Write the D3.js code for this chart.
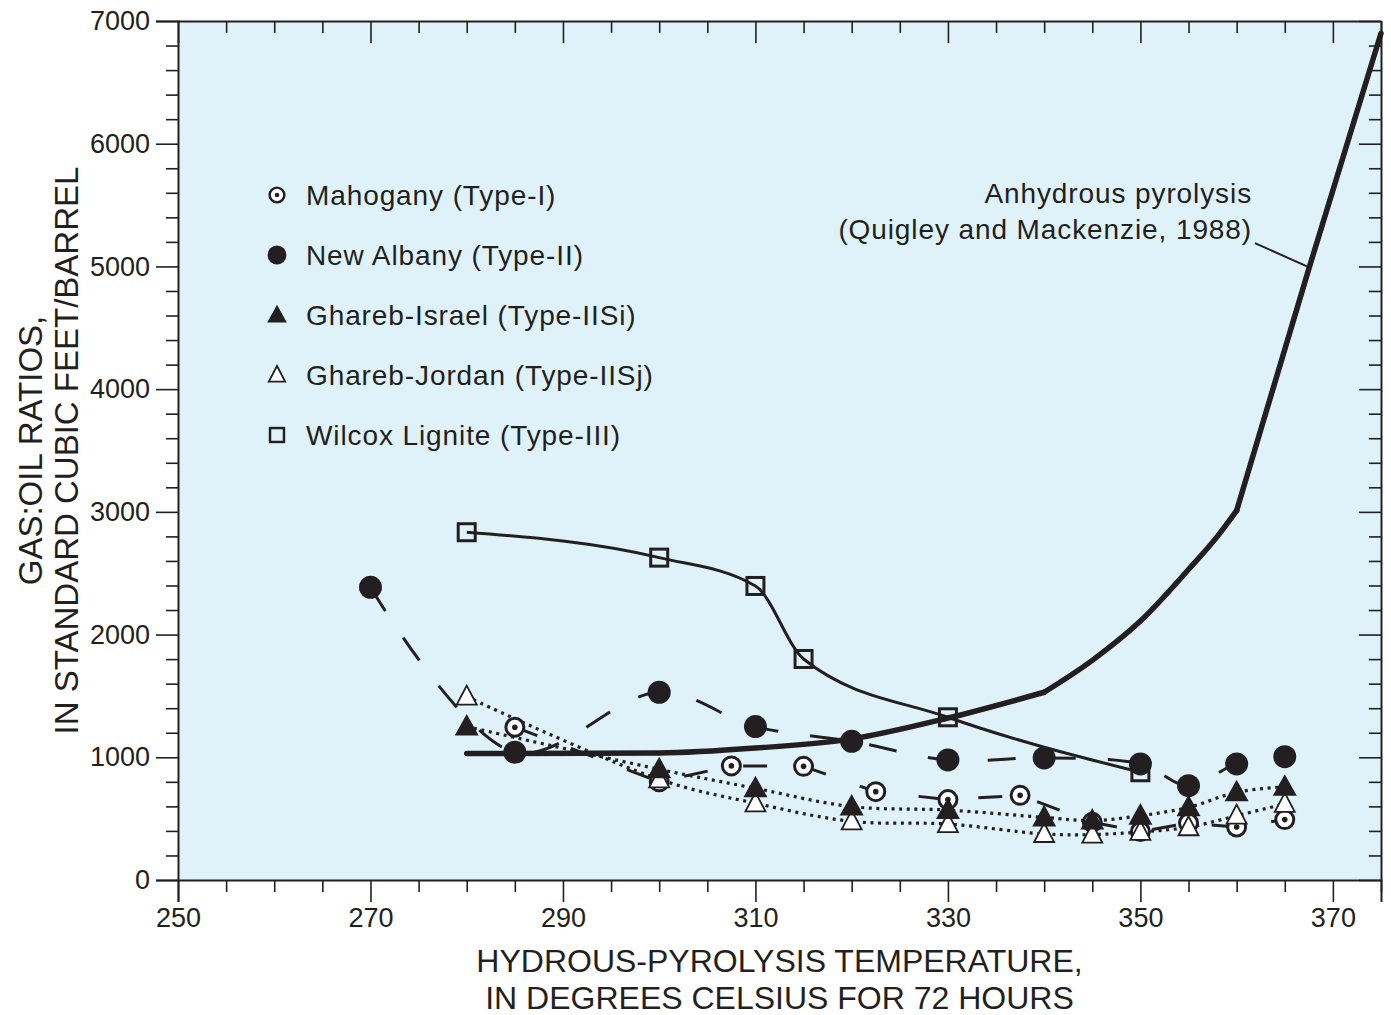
<!DOCTYPE html>
<html><head><meta charset="utf-8">
<script src="https://cdn.jsdelivr.net/npm/d3@7"></script>
<style>
body{margin:0;background:#fff;}
text{font-family:"Liberation Sans",Arial,sans-serif;fill:#231f20;}
</style></head>
<body><svg id="chart" width="1391" height="1015"></svg>
<script>
// ---------- data ----------
const xMajorTicks = [250,270,290,310,330,350,370];
const yMajorTicks = [0,1000,2000,3000,4000,5000,6000,7000];

const mahoganyT = [285,300,307.5,315,322.5,330,337.5,345,350,355,360,365];
const mahoganyV = [1245,800,930,926,720,655,690,470,395,465,432,492];

const newAlbanyT = [270,285,300,310,320,330,340,350,355,360,365];
const newAlbanyV = [2385,1041,1530,1250,1130,978,995,946,769,946,1005];

const israelT = [280,300,310,320,330,340,345,350,355,360,365];
const israelV = [1250,902,747,598,570,510,484,524,592,715,760];

const jordanT = [280,300,310,320,330,340,345,350,355,360,365];
const jordanV = [1494,820,625,478,456,375,370,392,430,524,620];

const wilcoxT = [280,300,310,315,330,350];
const wilcoxV = [2834,2627,2396,1801,1326,878];

const anhydrousT = [280,300,310,320,330,340,345,350,355,358,360,367.5,375];
const anhydrousV = [1030,1035,1075,1150,1320,1530,1790,2110,2530,2800,3010,4980,6900];
const anhydrousBreaks = [340,360];   // visible corners of the curve

const legendLabels = ["Mahogany (Type-I)","New Albany (Type-II)","Ghareb-Israel (Type-IISi)","Ghareb-Jordan (Type-IISj)","Wilcox Lignite (Type-III)"];
const annotationLines = ["Anhydrous pyrolysis","(Quigley and Mackenzie, 1988)"];
const annotationAnchor = [361.6, 5517];     // text right end (data units)
const leaderFrom = [361.9, 5190];
const leaderTo = [367.6, 4990];

// ---------- layout ----------
const L = 178, R = 1381, T = 21, B = 880;
const svg = d3.select("#chart");
const x = d3.scaleLinear().domain([250,375]).range([L,R]);
const y = d3.scaleLinear().domain([0,7000]).range([B,T]);
const ink = "#231f20";

svg.append("rect").attr("x",L).attr("y",T).attr("width",R-L).attr("height",B-T).attr("fill","#dff2fa");

const xMinor = d3.range(250,376,5).filter(v=>!xMajorTicks.includes(v));
const yMinor = d3.range(0,7001,200).filter(v=>!yMajorTicks.includes(v));

function styleAxis(g){
  g.selectAll("path").attr("stroke",ink).attr("stroke-width",2);
  g.selectAll("line").attr("stroke",ink).attr("stroke-width",1.6);
  g.selectAll("text").style("font-size","27px").attr("fill",ink);
}
// bottom
svg.append("g").attr("transform",`translate(0,${B})`)
  .call(d3.axisBottom(x).tickValues(xMajorTicks).tickSize(22).tickFormat(d3.format("d")).tickPadding(6))
  .call(styleAxis);
svg.append("g").attr("transform",`translate(0,${B})`)
  .call(d3.axisBottom(x).tickValues(xMinor).tickSize(12).tickFormat(""))
  .call(styleAxis).call(g=>g.select("path").remove());
// top (inward)
svg.append("g").attr("transform",`translate(0,${T})`)
  .call(d3.axisTop(x).tickValues(xMajorTicks).tickSizeInner(-22).tickSizeOuter(0).tickFormat(""))
  .call(styleAxis);
svg.append("g").attr("transform",`translate(0,${T})`)
  .call(d3.axisTop(x).tickValues(xMinor).tickSizeInner(-12).tickSizeOuter(0).tickFormat(""))
  .call(styleAxis).call(g=>g.select("path").remove());
// left
svg.append("g").attr("transform",`translate(${L},0)`)
  .call(d3.axisLeft(y).tickValues(yMajorTicks).tickSize(22).tickFormat(d3.format("d")).tickPadding(6))
  .call(styleAxis);
svg.append("g").attr("transform",`translate(${L},0)`)
  .call(d3.axisLeft(y).tickValues(yMinor).tickSize(12).tickFormat(""))
  .call(styleAxis).call(g=>g.select("path").remove());
// right (inward)
svg.append("g").attr("transform",`translate(${R},0)`)
  .call(d3.axisRight(y).tickValues(yMajorTicks).tickSizeInner(-22).tickSizeOuter(0).tickFormat(""))
  .call(styleAxis);
svg.append("g").attr("transform",`translate(${R},0)`)
  .call(d3.axisRight(y).tickValues(yMinor).tickSizeInner(-12).tickSizeOuter(0).tickFormat(""))
  .call(styleAxis).call(g=>g.select("path").remove());

// ---------- lines ----------
const zip = (t,v)=>t.map((d,i)=>[d,v[i]]);
function drawLine(pts,curve,width,dash,cap){
  const line = d3.line().x(d=>x(d[0])).y(d=>y(d[1])).curve(curve);
  svg.append("path").attr("d",line(pts)).attr("fill","none")
    .attr("stroke",ink).attr("stroke-width",width)
    .attr("stroke-dasharray",dash||null).attr("stroke-linecap",cap||"butt")
    .attr("stroke-linejoin","round");
}
drawLine(zip(jordanT,jordanV),d3.curveCatmullRom,3.2,"3,4.6");
drawLine(zip(israelT,israelV),d3.curveCatmullRom,3.2,"3,4.6");
drawLine(zip(mahoganyT,mahoganyV),d3.curveLinear,3,"24,36");
drawLine(zip(newAlbanyT,newAlbanyV),d3.curveCatmullRom,3,"28,32");
drawLine(zip(wilcoxT,wilcoxV),d3.curveMonotoneX,3);
// anhydrous: smooth pieces joined at the visible corners
{
  const pts = zip(anhydrousT,anhydrousV);
  const cuts = [anhydrousT[0],...anhydrousBreaks,anhydrousT[anhydrousT.length-1]];
  for(let i=0;i<cuts.length-1;i++){
    drawLine(pts.filter(p=>p[0]>=cuts[i]&&p[0]<=cuts[i+1]),d3.curveMonotoneX,5.5,null,"round");
  }
}

// ---------- markers ----------
function marker(g,type,s){
  if(type==="mahogany"){
    g.append("circle").attr("r",9*s).attr("fill","#fff").attr("stroke",ink).attr("stroke-width",3*s);
    g.append("circle").attr("r",2.8*s).attr("fill",ink);
  } else if(type==="albany"){
    g.append("circle").attr("r",11.5*s).attr("fill",ink);
  } else if(type==="israel"){
    const a=12*s; g.append("path").attr("d",`M0,${-a*1.05}L${a},${a*0.75}L${-a},${a*0.75}Z`).attr("fill",ink);
  } else if(type==="jordan"){
    const a=10*s; g.append("path").attr("d",`M0,${-a*1.1}L${a},${a*0.8}L${-a},${a*0.8}Z`).attr("fill","#fff").attr("stroke",ink).attr("stroke-width",1.8);
  } else if(type==="wilcox"){
    const a=8.5*s; g.append("rect").attr("x",-a).attr("y",-a).attr("width",2*a).attr("height",2*a).attr("fill","none").attr("stroke",ink).attr("stroke-width",3*s);
  }
}
function drawMarkers(t,v,type){
  zip(t,v).forEach(d=>{
    const g=svg.append("g").attr("transform",`translate(${x(d[0])},${y(d[1])})`);
    marker(g,type,1);
  });
}
drawMarkers(wilcoxT,wilcoxV,"wilcox");
drawMarkers(newAlbanyT,newAlbanyV,"albany");
drawMarkers(mahoganyT,mahoganyV,"mahogany");
drawMarkers(jordanT,jordanV,"jordan");
drawMarkers(israelT,israelV,"israel");

// ---------- legend ----------
const legendTypes=["mahogany","albany","israel","jordan","wilcox"];
legendLabels.forEach((lab,i)=>{
  const cy = 195 + i*60;
  const g = svg.append("g").attr("transform",`translate(277,${cy})`);
  marker(g,legendTypes[i],0.82);
  svg.append("text").attr("x",306).attr("y",cy+10).text(lab)
    .style("font-size","28px").style("letter-spacing","0.9px");
});

// ---------- annotation ----------
annotationLines.forEach((s,i)=>{
  svg.append("text").attr("x",x(annotationAnchor[0])).attr("y",y(annotationAnchor[1])+i*36)
    .attr("text-anchor","end").text(s).style("font-size","28px").style("letter-spacing","0.9px");
});
svg.append("line").attr("x1",x(leaderFrom[0])).attr("y1",y(leaderFrom[1]))
  .attr("x2",x(leaderTo[0])).attr("y2",y(leaderTo[1])).attr("stroke",ink).attr("stroke-width",2);

// ---------- axis titles ----------
const cx=(L+R)/2;
svg.append("text").attr("x",cx).attr("y",972).attr("text-anchor","middle").style("font-size","32px").text("HYDROUS-PYROLYSIS TEMPERATURE,");
svg.append("text").attr("x",cx).attr("y",1009).attr("text-anchor","middle").style("font-size","32px").text("IN DEGREES CELSIUS FOR 72 HOURS");
const cyT=(T+B)/2;
svg.append("text").attr("transform",`translate(42,${cyT}) rotate(-90)`).attr("text-anchor","middle").style("font-size","33px").text("GAS:OIL RATIOS,");
svg.append("text").attr("transform",`translate(78,${cyT}) rotate(-90)`).attr("text-anchor","middle").style("font-size","33px").text("IN STANDARD CUBIC FEET/BARREL");
</script></body></html>
